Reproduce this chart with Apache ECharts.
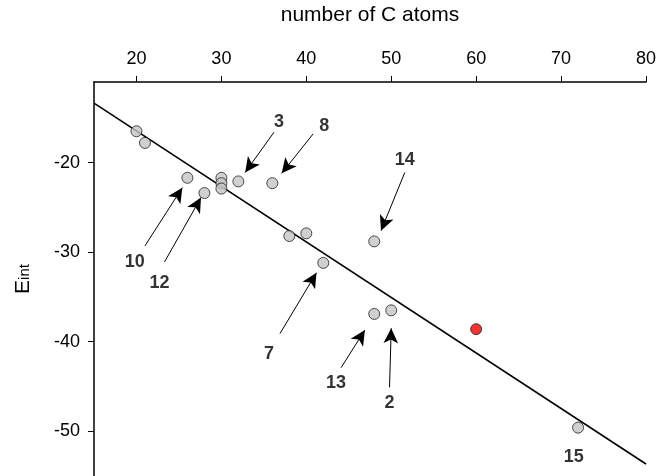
<!DOCTYPE html>
<html>
<head>
<meta charset="utf-8">
<script src="https://cdn.jsdelivr.net/npm/echarts@6/dist/echarts.min.js"></script>
<style>
  html, body { margin: 0; padding: 0; background: #fff; }
  #chart { width: 659px; height: 476px; }
</style>
</head>
<body>
<div id="chart"></div>
<script>
// measured compounds
const carbonAtoms = [20, 21, 26, 28, 30, 30, 30, 32, 36, 38, 40, 42, 48, 48, 50, 72];
const eint = [-16.5, -17.8, -21.7, -23.4, -21.7, -22.3, -22.9, -22.1, -22.3, -28.2, -27.9, -31.2, -28.8, -36.9, -36.5, -49.6];

// highlighted compound (red)
const redX = [60];
const redY = [-38.6];

// regression line end points
const fitX = [15, 80];
const fitY = [-13.36, -53.66];

// numbered labels
const labelText = ['3', '8', '10', '12', '14', '7', '13', '2', '15'];
const labelX = [36.8, 42.1, 19.8, 22.7, 51.6, 35.6, 43.5, 49.8, 71.5];
const labelY = [-15.5, -15.9, -31.1, -33.4, -19.7, -41.4, -44.6, -46.9, -52.9];

// arrows: tail -> head
const arrowFromX = [36.2, 40.8, 21.0, 23.3, 51.6, 36.9, 44.1, 49.8];
const arrowFromY = [-16.6, -16.8, -29.3, -31.1, -21.1, -39.1, -42.9, -45.1];
const arrowToX = [32.8, 37.1, 25.4, 27.6, 48.8, 41.2, 46.9, 50.0];
const arrowToY = [-21.1, -21.2, -22.8, -23.9, -27.6, -32.3, -38.7, -38.5];

const xTicks = [20, 30, 40, 50, 60, 70, 80];
const yTicks = [-20, -30, -40, -50];

const chart = echarts.init(document.getElementById('chart'));

const font = 'Liberation Sans, Arial, sans-serif';

const option = {
  backgroundColor: '#ffffff',
  animation: false,
  grid: { left: 94, right: 11, top: 82, bottom: -3 },
  xAxis: {
    type: 'value',
    position: 'top',
    min: 15,
    max: 80,
    name: 'number of C atoms',
    nameLocation: 'middle',
    nameGap: 56,
    nameTextStyle: { fontSize: 21, color: '#000', fontFamily: font },
    axisLine: { lineStyle: { color: '#000', width: 1.5 } },
    axisTick: { show: true, length: 6, customValues: xTicks, lineStyle: { color: '#000' } },
    axisLabel: { customValues: xTicks, fontSize: 18, color: '#000', fontFamily: font, margin: 14 },
    splitLine: { show: false }
  },
  yAxis: {
    type: 'value',
    min: -55,
    max: -11,
    name: '{a|E}{b|int}',
    nameLocation: 'middle',
    nameRotate: 90,
    nameGap: 60,
    nameTextStyle: {
      color: '#000',
      fontFamily: font,
      rich: {
        a: { fontSize: 21, color: '#000', fontFamily: font, verticalAlign: 'bottom', lineHeight: 24 },
        b: { fontSize: 15, color: '#000', fontFamily: font, verticalAlign: 'bottom', lineHeight: 24, padding: [0, 0, 2, 0] }
      }
    },
    axisLine: { show: true, lineStyle: { color: '#000', width: 1.5 } },
    axisTick: { show: true, length: 6, customValues: yTicks, lineStyle: { color: '#000' } },
    axisLabel: { customValues: yTicks, fontSize: 18, color: '#000', fontFamily: font, margin: 14 },
    splitLine: { show: false }
  },
  series: [
    {
      type: 'line',
      data: fitX.map((x, i) => [x, fitY[i]]),
      symbol: 'none',
      lineStyle: { color: '#000', width: 1.6 },
      z: 2,
      markLine: {
        silent: true,
        symbol: ['none', 'arrow'],
        symbolSize: [11, 15],
        label: { show: false },
        lineStyle: { color: '#000', width: 1, type: 'solid' },
        data: arrowFromX.map((x, i) => [
          { coord: [x, arrowFromY[i]] },
          { coord: [arrowToX[i], arrowToY[i]] }
        ])
      }
    },
    {
      type: 'scatter',
      data: carbonAtoms.map((x, i) => [x, eint[i]]),
      symbolSize: 11,
      itemStyle: { color: '#c4c4c4', borderColor: '#222', borderWidth: 1 },
      z: 3
    },
    {
      type: 'scatter',
      data: redX.map((x, i) => [x, redY[i]]),
      symbolSize: 11,
      itemStyle: { color: '#ee0000', borderColor: '#222', borderWidth: 1 },
      z: 3
    },
    {
      type: 'scatter',
      data: labelX.map((x, i) => ({ value: [x, labelY[i]], name: labelText[i] })),
      symbolSize: 1,
      itemStyle: { color: 'rgba(0,0,0,0)' },
      label: {
        show: true,
        position: 'inside',
        formatter: p => p.name,
        fontSize: 18,
        fontWeight: 'bold',
        color: '#000',
        fontFamily: font
      },
      z: 4
    }
  ]
};

chart.setOption(option);
</script>
</body>
</html>
